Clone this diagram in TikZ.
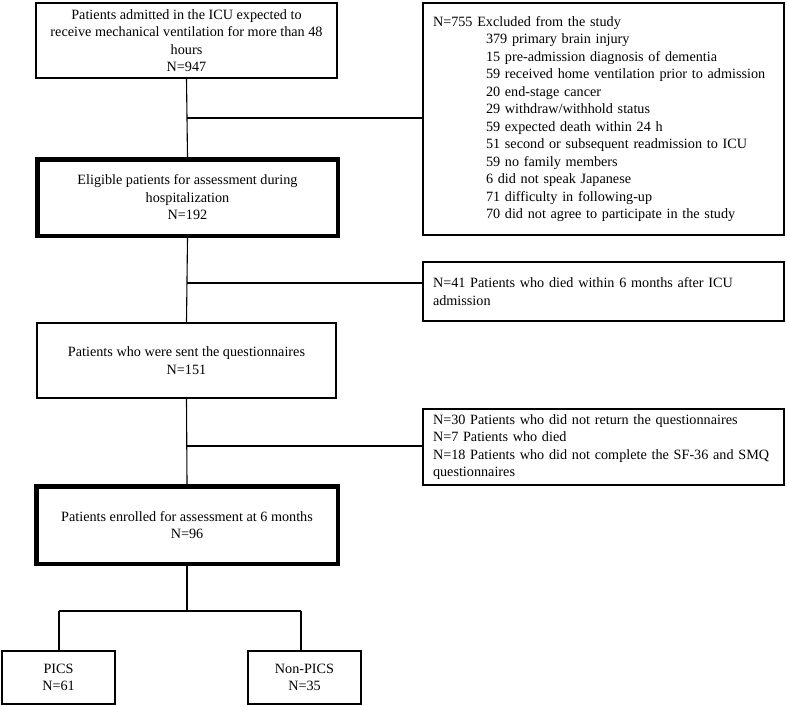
\documentclass[tikz,border=0pt]{standalone}
\usepackage{fontspec}
\setmainfont{Liberation Serif}
\begin{document}
\begin{tikzpicture}[x=1pt,y=-1pt,
  every node/.style={font=\fontsize{14.2}{17.5}\selectfont},
  box/.style={draw, line width=1.6pt, inner sep=0pt, align=center},
  thickbox/.style={box, line width=4.5pt},
  lbox/.style={draw, line width=1.6pt, inner xsep=10pt, inner ysep=0pt, align=left, text width=341pt},
  link/.style={line width=1.1pt}]
\useasboundingbox (0,0) rectangle (787,705);

\node[box, minimum width=301pt, minimum height=75pt] (b1) at (186.5,40.5)
  {Patients admitted in the ICU expected to\\receive mechanical ventilation for more than 48\\hours\\N=947};
\node[lbox, minimum height=232pt] (ex) at (603.5,119)
  {N=755 Excluded from the study\\
   \hspace*{53pt}379 primary brain injury\\
   \hspace*{53pt}15 pre-admission diagnosis of dementia\\
   \hspace*{53pt}59 received home ventilation prior to admission\\
   \hspace*{53pt}20 end-stage cancer\\
   \hspace*{53pt}29 withdraw/withhold status\\
   \hspace*{53pt}59 expected death within 24 h\\
   \hspace*{53pt}51 second or subsequent readmission to ICU\\
   \hspace*{53pt}59 no family members\\
   \hspace*{53pt}6 did not speak Japanese\\
   \hspace*{53pt}71 difficulty in following-up\\
   \hspace*{53pt}70 did not agree to participate in the study};
\node[thickbox, minimum width=300.5pt, minimum height=76.5pt] (el) at (187.5,197.5)
  {Eligible patients for assessment during\\hospitalization\\N=192};
\node[lbox, minimum height=59pt] (d41) at (603.5,291.5)
  {N=41 Patients who died within 6 months after ICU\\admission};
\node[box, minimum width=299pt, minimum height=75pt] (se) at (186.5,360.5)
  {Patients who were sent the questionnaires\\N=151};
\node[lbox, minimum height=76pt] (d30) at (603.5,447)
  {N=30 Patients who did not return the questionnaires\\
   N=7 Patients who died\\
   \mbox{N=18 Patients who did not complete the SF-36 and SMQ}\\
   questionnaires};
\node[thickbox, minimum width=301.5pt, minimum height=77.5pt] (en) at (187,525)
  {Patients enrolled for assessment at 6 months\\N=96};
\node[box, minimum width=113pt, minimum height=53pt] (pi) at (58.5,677.5)
  {PICS\\N=61};
\node[box, minimum width=113pt, minimum height=53pt] (np) at (304.5,677.5)
  {Non-PICS\\N=35};

% main spine
\draw[link] (b1.south) -- (el.north);
\draw[link] (el.south) -- (se.north);
\draw[link] (se.south) -- (en.north);

% branches
\coordinate (j1) at (187,118);
\draw[link] (j1) -- (j1 -| ex.west);
\coordinate (j2) at (187,283);
\draw[link] (j2) -- (j2 -| d41.west);
\coordinate (j3) at (187,446);
\draw[link] (j3) -- (j3 -| d30.west);

% split
\coordinate (sp) at (187,611);
\coordinate (sl) at (59,611);
\coordinate (sr) at (301,611);
\draw[link] (en.south) -- (sp);
\draw[link] (sl) -- (sr);
\draw[link] (sl) -- (sl |- pi.north);
\draw[link] (sr) -- (sr |- np.north);
\end{tikzpicture}
\end{document}
